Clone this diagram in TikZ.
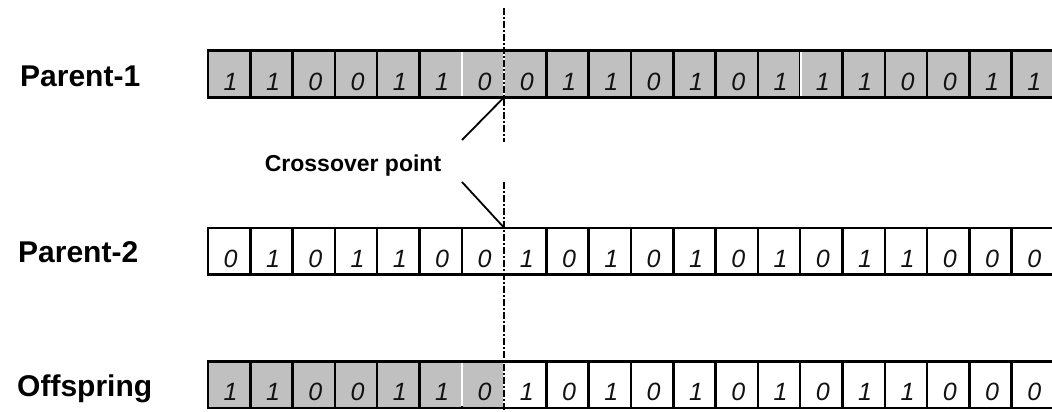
\documentclass[tikz,border=0pt]{standalone}
\usepackage{fontspec}
\setmainfont{Liberation Sans}
\definecolor{cellgray}{HTML}{C0C0C0}
\definecolor{bitink}{HTML}{111111}
\begin{document}
\begin{tikzpicture}[x=1pt,y=-1pt,
  cell/.style={rectangle, draw=black, line width=2.5pt, minimum width=42.3pt,
    minimum height=46.5pt, inner sep=0pt, outer sep=0pt},
  gene/.style={cell, fill=cellgray},
  bit/.style={font=\fontsize{25}{25}\selectfont\itshape, text=bitink,
    anchor=base, inner sep=0pt},
  rowlabel/.style={font=\fontsize{30}{30}\selectfont\bfseries,
    anchor=base west, inner sep=0pt},
  note/.style={font=\fontsize{23}{24}\selectfont\bfseries, inner sep=0pt},
  gap/.style={draw=white, line width=2.5pt},
  cut/.style={line width=2.3pt, dash pattern=on 7pt off 2pt on 2pt off 2pt},
  pointer/.style={line width=1.8pt}]
\useasboundingbox (0,0) rectangle (1052,412);

% Parent-1: every gene shaded
\foreach \b [count=\i] in {1,1,0,0,1,1,0,0,1,1,0,1,0,1,1,1,0,0,1,1} {
  \node[gene] (pa\i) at ({208+42.3*(\i-0.5)},74) {};
  \node[bit] (pabit\i) at ([xshift=1.5pt,yshift=7pt]pa\i.south) {\b};
}
% Parent-2: plain genes
\foreach \b [count=\i] in {0,1,0,1,1,0,0,1,0,1,0,1,0,1,0,1,1,0,0,0} {
  \node[cell] (pb\i) at ({208+42.3*(\i-0.5)},251) {};
  \node[bit] (pbbit\i) at ([xshift=1.5pt,yshift=7pt]pb\i.south) {\b};
}
% Offspring: head from Parent-1, tail from Parent-2
\foreach \b [count=\i] in {1,1,0,0,1,1,0,1,0,1,0,1,0,1,0,1,1,0,0,0} {
  \ifnum\i<8
    \node[gene] (of\i) at ({208+42.3*(\i-0.5)},384.5) {};
  \else
    \node[cell] (of\i) at ({208+42.3*(\i-0.5)},384.5) {};
  \fi
  \node[bit] (ofbit\i) at ([xshift=1.5pt,yshift=7pt]of\i.south) {\b};
}

% light seams between some shaded genes
\draw[gap] ([yshift=-1.3pt]pa6.north east) -- ([yshift=1.3pt]pa6.south east);
\draw[gap] ([yshift=-1.3pt]of6.north east) -- ([yshift=1.3pt]of6.south east);
\draw[gap] ([xshift=1pt,yshift=-1.3pt]pa14.north east) -- ([xshift=1pt,yshift=1.3pt]pa14.south east);
\draw[line width=1.2pt] ([xshift=-1pt]pa14.north east) -- ([xshift=-1pt]pa14.south east);
\foreach \r in {pa,pb,of}
  \draw[gap] ([yshift=-1.3pt]\r7.north east) -- ([yshift=1.3pt]\r7.south east);

% row names
\node[rowlabel] (lblA) at (20,86) {Parent-1};
\node[rowlabel] (lblB) at (18,262) {Parent-2};
\node[rowlabel] (lblC) at (17,396) {Offspring};

% crossover cut
\coordinate (cutA) at ({208+42.3*7},8);
\coordinate (cutB) at ({208+42.3*7},142);
\coordinate (cutC) at ({208+42.3*7},182);
\coordinate (cutD) at ({208+42.3*7},412);
\draw[cut] (cutA) -- (cutB);
\draw[cut] (cutC) -- (cutD);

\node[note] (xlabel) at (353,166) {Crossover point};
\coordinate (tipA) at (462,140);
\coordinate (tipB) at (462,182);
\draw[pointer] (pa7.south east) -- (tipA);
\draw[pointer] (tipB) -- (pb7.north east);
\end{tikzpicture}
\end{document}
